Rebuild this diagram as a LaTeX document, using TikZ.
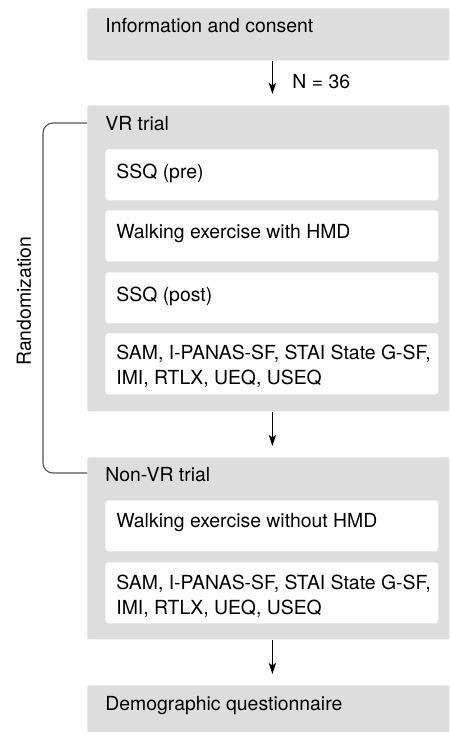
\documentclass[tikz,border=0pt]{standalone}
\usepackage{fontspec}
\setmainfont{TeX Gyre Heros}
\usepackage{xcolor}
\usepackage{tikz}
\usetikzlibrary{arrows.meta}
\definecolor{boxgrey}{RGB}{221,221,221}
\definecolor{bracegrey}{RGB}{85,85,85}

\begin{document}
\begin{tikzpicture}[x=0.5pt,y=-0.5pt,
  stage/.style={fill=boxgrey,rounded corners=1pt,inner sep=0pt,anchor=north west,minimum width=181pt},
  item/.style={fill=white,rounded corners=1.5pt,inner sep=0pt,anchor=north west,minimum width=166.5pt},
  lbl/.style={anchor=base west,inner sep=0pt,font=\fontsize{9.7}{12.5}\selectfont},
  lbltwo/.style={anchor=north west,inner sep=0pt,align=left,font=\fontsize{9.7}{12.5}\selectfont},
  flow/.style={-{Stealth[length=5.5pt,width=3.6pt,inset=1.2pt]},line width=0.55pt,shorten >=5.5pt},
  brace/.style={draw=bracegrey,line width=0.55pt,rounded corners=5pt}]
\useasboundingbox (0,0) rectangle (449,732);
% grey stages
\node[stage,minimum height=26pt] (info) at (87,8) {};
\node[stage,minimum height=153pt] (vr) at (87,105) {};
\node[stage,minimum height=91pt] (nonvr) at (87,457) {};
\node[stage,minimum height=23.5pt] (demo) at (87,685) {};
% white items
\node[item,minimum height=25.5pt] (ssqpre) at (105,149) {};
\node[item,minimum height=25.5pt] (walkvr) at (105,210) {};
\node[item,minimum height=25.5pt] (ssqpost) at (105,272) {};
\node[item,minimum height=30.5pt] (quesvr) at (105,333) {};
\node[item,minimum height=25.5pt] (walknon) at (105,500) {};
\node[item,minimum height=30.5pt] (quesnon) at (105,562) {};
% texts
\node[lbl] (info-t) at (105,33) {Information and consent};
\node[lbl] (n36) at (292,89) {N = 36};
\node[lbl] (vr-t) at (105,131) {VR trial};
\node[lbl] (ssqpre-t) at (116,179) {SSQ (pre)};
\node[lbl] (walkvr-t) at (116,239) {Walking exercise with HMD};
\node[lbl] (ssqpost-t) at (116,301) {SSQ (post)};
\node[lbltwo] (quesvr-t) at (116,345) {SAM, I-PANAS-SF, STAI State G-SF,\\IMI, RTLX, UEQ, USEQ};
\node[lbl] (nonvr-t) at (105,481) {Non-VR trial};
\node[lbl] (walknon-t) at (116,527) {Walking exercise without HMD};
\node[lbltwo] (quesnon-t) at (116,575) {SAM, I-PANAS-SF, STAI State G-SF,\\IMI, RTLX, UEQ, USEQ};
\node[lbl] (demo-t) at (105,710) {Demographic questionnaire};
\node[rotate=90,inner sep=0pt,font=\fontsize{9.7}{12.5}\selectfont] (rand) at (24,301) {Randomization};
% arrows
\draw[flow]([xshift=2pt]info.south)--([xshift=2pt]vr.north);
\draw[flow]([xshift=2pt]vr.south)--([xshift=2pt]nonvr.north);
\draw[flow]([xshift=2pt]nonvr.south)--([xshift=2pt]demo.north);
% randomization bracket
\coordinate (rtop) at (87,123);
\coordinate (rbot) at (87,473);
\draw[brace](rtop)--++(-44,0)|-(rbot);
\end{tikzpicture}
\end{document}
